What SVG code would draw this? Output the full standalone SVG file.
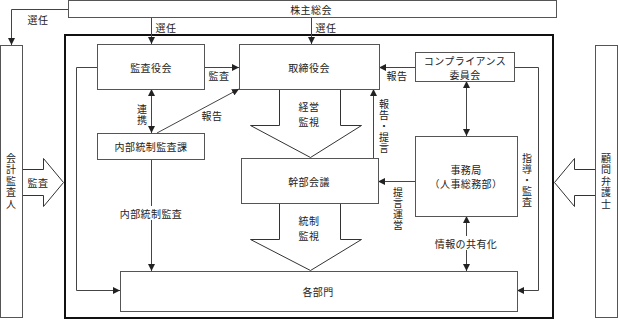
<svg xmlns="http://www.w3.org/2000/svg" width="618" height="320" viewBox="0 0 618 320">
<defs>
<style>
text{font-family:"Noto Sans CJK JP","Noto Sans",sans-serif;font-size:10px;fill:#222;text-anchor:middle;dominant-baseline:central;letter-spacing:0.4px}
.v{writing-mode:vertical-rl;text-orientation:upright;letter-spacing:0}
.box{fill:#fff;stroke:#555;stroke-width:1}
.ln{fill:none;stroke:#444;stroke-width:1}
.ar{marker-end:url(#ah)}
.dar{marker-end:url(#ah);marker-start:url(#ahs)}
.blk{fill:#fff;stroke:#333;stroke-width:1}
.bg{fill:#fff}
</style>
<marker id="ah" viewBox="0 0 8 8" refX="8" refY="4" markerWidth="7" markerHeight="7" markerUnits="userSpaceOnUse" orient="auto"><path d="M0,0 L8,4 L0,8 Z" fill="#222"/></marker>
<marker id="ahs" viewBox="0 0 8 8" refX="0" refY="4" markerWidth="7" markerHeight="7" markerUnits="userSpaceOnUse" orient="auto"><path d="M8,0 L0,4 L8,8 Z" fill="#222"/></marker>
</defs>

<rect x="65" y="35" width="488" height="283" fill="none" stroke="#111" stroke-width="2"/>

<g id="connectors">
<path class="ln ar" d="M68.5,9.5 H11.5 V45"/>
<path class="ln ar" d="M151.5,17.5 V44"/>
<path class="ln ar" d="M311.5,17.5 V44"/>
<path class="ln ar" d="M204,67.5 H239"/>
<path class="ln dar" d="M151.5,89 V133"/>
<path class="ln ar" d="M157,133 L239,89"/>
<path class="ln ar" d="M97,67.5 H76.5 V290.5 H120"/>
<path class="ln ar" d="M151.5,159 V271"/>
<path class="ln ar" d="M415,67.5 H379"/>
<path class="ln dar" d="M466.5,81 V136"/>
<path class="ln ar" d="M514,67.5 H538.5 V290.5 H517"/>
<path class="ln ar" d="M373.5,158 V89"/>
<path class="ln ar" d="M415,181.5 H378"/>
<path class="ln dar" d="M466.5,216 V271"/>
<polygon class="blk" points="279.5,89.5 279.5,125.5 250.5,125.5 310.5,157.5 361.5,125.5 340.5,125.5 340.5,89.5"/>
<polygon class="blk" points="279.5,203.5 279.5,239.5 250.5,239.5 310.5,270.5 361.5,239.5 340.5,239.5 340.5,203.5"/>
<polygon class="blk" points="22.5,169.5 43.5,169.5 43.5,158.5 63.5,182.5 43.5,206.5 43.5,195.5 22.5,195.5"/>
<polygon class="blk" points="595.5,169.5 574.5,169.5 574.5,158.5 554.5,182.5 574.5,206.5 574.5,195.5 595.5,195.5"/>
<text x="38" y="19">選任</text>
<text x="166" y="27">選任</text>
<text x="326" y="27">選任</text>
<text x="219" y="75">監査</text>
<text class="v" x="142" y="109">連</text>
<text class="v" x="142" y="120">携</text>
<text x="212" y="115">報告</text>
<text x="397" y="75">報告</text>
<rect class="bg" x="118" y="206" width="66" height="14"/>
<text x="151" y="213">内部統制監査</text>
<rect class="bg" x="432" y="236" width="68" height="14"/>
<text x="466" y="243">情報の共有化</text>
<text x="38" y="182">監査</text>
<text x="309" y="106">経営</text>
<text x="309" y="121">監視</text>
<text x="309" y="220">統制</text>
<text x="309" y="235">監視</text>
<text class="v" x="384" y="104">報</text>
<text class="v" x="384" y="115">告</text>
<text class="v" x="384" y="126">・</text>
<text class="v" x="384" y="137">提</text>
<text class="v" x="384" y="148">言</text>
<text class="v" x="398" y="192">提</text>
<text class="v" x="398" y="203">言</text>
<text class="v" x="398" y="214">運</text>
<text class="v" x="398" y="225">営</text>
<text class="v" x="527" y="158">指</text>
<text class="v" x="527" y="169">導</text>
<text class="v" x="527" y="180">・</text>
<text class="v" x="527" y="191">監</text>
<text class="v" x="527" y="202">査</text>
</g>

<g id="kabunushi"><rect class="box" x="68.5" y="0.5" width="488" height="17"/><text x="311" y="9">株主総会</text></g>
<g id="kaikei"><rect class="box" x="0.5" y="45.5" width="22" height="272"/>
<text class="v" x="11" y="158">会</text><text class="v" x="11" y="169.5">計</text><text class="v" x="11" y="181">監</text><text class="v" x="11" y="192.5">査</text><text class="v" x="11" y="204">人</text></g>
<g id="komon"><rect class="box" x="595.5" y="45.5" width="22" height="272"/>
<text class="v" x="606" y="158">顧</text><text class="v" x="606" y="169.5">問</text><text class="v" x="606" y="181">弁</text><text class="v" x="606" y="192.5">護</text><text class="v" x="606" y="204">士</text></g>
<g id="kansayaku"><rect class="box" x="97.5" y="44.5" width="107" height="45"/><text x="151" y="67">監査役会</text></g>
<g id="torishimari"><rect class="box" x="239.5" y="44.5" width="140" height="45"/><text x="309" y="67">取締役会</text></g>
<g id="naibu"><rect class="box" x="97.5" y="133.5" width="107" height="26"/><text x="151" y="146">内部統制監査課</text></g>
<g id="compliance"><rect class="box" x="415.5" y="52.5" width="99" height="29"/><text x="465" y="60">コンプライアンス</text><text x="465" y="74.5">委員会</text></g>
<g id="kanbu"><rect class="box" x="241.5" y="158.5" width="137" height="45"/><text x="309" y="181">幹部会議</text></g>
<g id="jimukyoku"><rect class="box" x="415.5" y="136.5" width="102" height="80"/><text x="466" y="169">事務局</text><text x="466" y="183.5">（人事総務部）</text></g>
<g id="kakubumon"><rect class="box" x="120.5" y="271.5" width="397" height="40"/><text x="318" y="291">各部門</text></g>
</svg>
